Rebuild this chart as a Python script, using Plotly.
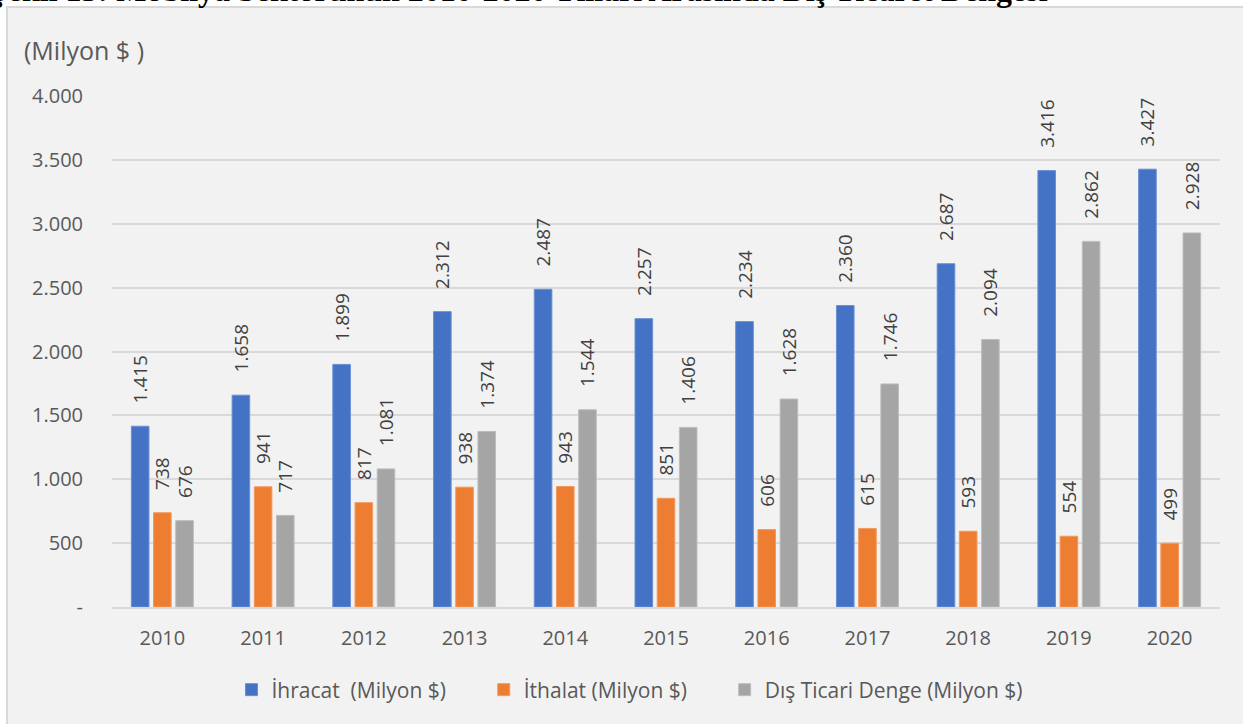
import plotly.graph_objects as go

years = ["2010", "2011", "2012", "2013", "2014", "2015", "2016", "2017", "2018", "2019", "2020"]
ihracat = [1415, 1658, 1899, 2312, 2487, 2257, 2234, 2360, 2687, 3416, 3427]
ithalat = [738, 941, 817, 938, 943, 851, 606, 615, 593, 554, 499]
denge = [676, 717, 1081, 1374, 1544, 1406, 1628, 1746, 2094, 2862, 2928]
names = ["İhracat  (Milyon $)", "İthalat (Milyon $)", "Dış Ticari Denge (Milyon $)"]
colors = ["#4472C4", "#ED7D31", "#A5A5A5"]
edge_colors = ["#6a8fd4", "#f29a5e", "#bdbdbd"]
ytick_vals = [0, 500, 1000, 1500, 2000, 2500, 3000, 3500, 4000]
ytick_text = ["-", "500", "1.000", "1.500", "2.000", "2.500", "3.000", "3.500", "4.000"]

FONT = "Open Sans"
TXT = "#595959"
PAD = "\u00a0" * 4
GAP = "\u00a0" * 6

def fmt(v):
    return f"{v:,}".replace(",", ".")

fig = go.Figure()
for i, (name, vals, col, ecol) in enumerate(zip(names, [ihracat, ithalat, denge], colors, edge_colors)):
    fig.add_trace(go.Bar(
        x=years, y=vals, name=name + (GAP if i < 2 else ""), marker_color=col,
        marker_line=dict(color=ecol, width=1),
        text=[PAD + fmt(v) for v in vals], textposition="outside", textangle=-90,
        constraintext="none",
        textfont=dict(family=FONT, size=19, color="#404040"),
        cliponaxis=False,
    ))

W, H = 1243, 724
L, R, T, B = 112, 23, 96, 117
pw = W - L - R
ph = H - T - B

def px2x(px):
    return (px - L) / pw

def py2y(py):
    return (H - B - py) / ph

fig.update_layout(
    width=W, height=H,
    margin=dict(l=L, r=R, t=T, b=B, pad=0),
    paper_bgcolor="white",
    plot_bgcolor="rgba(0,0,0,0)",
    barmode="group", bargap=0.339, bargroupgap=0.207,
    font=dict(family=FONT, size=20, color=TXT),
    showlegend=True,
    legend=dict(orientation="h", x=px2x(630), xanchor="center", y=py2y(690), yanchor="middle",
                font=dict(family=FONT, size=21, color=TXT), bgcolor="rgba(0,0,0,0)",
                itemwidth=30, traceorder="normal"),
    xaxis=dict(showgrid=False, showline=True, linecolor="#d9d9d9", linewidth=1.5,
               ticks="", ticklabelstandoff=12,
               tickfont=dict(family=FONT, size=20, color=TXT)),
    yaxis=dict(range=[0, 4000], tickvals=ytick_vals, ticktext=ytick_text,
               showgrid=True, gridcolor="#d9d9d9", gridwidth=1.5, zeroline=False,
               ticks="", ticklabelstandoff=28,
               tickfont=dict(family=FONT, size=20, color=TXT)),
    shapes=[dict(type="rect", xref="paper", yref="paper",
                 x0=px2x(7), x1=px2x(1250), y0=py2y(730), y1=py2y(7),
                 fillcolor="#f2f2f2", line=dict(color="#d9d9d9", width=2), layer="below")],
    annotations=[
        dict(text="(Milyon $ )", xref="paper", yref="paper", x=px2x(22), y=py2y(50),
             xanchor="left", yanchor="middle", showarrow=False,
             font=dict(family=FONT, size=25, color=TXT)),
        dict(text="<b>Şekil 13: Mobilya Sektörünün 2010-2020 Yılları Arasında Dış Ticaret Dengesi</b>",
             xref="paper", yref="paper", x=px2x(-12), y=py2y(-10),
             xanchor="left", yanchor="middle", showarrow=False,
             font=dict(family="Liberation Serif", size=32, color="black")),
    ],
)

fig.write_html("out.html", config={"displayModeBar": False},
               post_script="document.body.style.margin='0';document.body.style.overflow='hidden';")
